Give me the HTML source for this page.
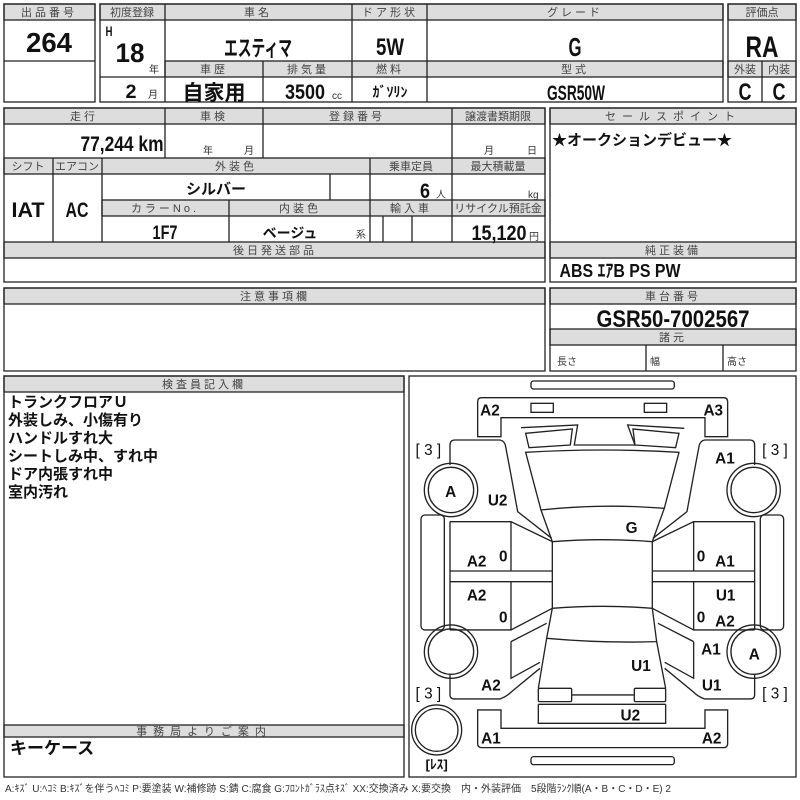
<!DOCTYPE html>
<html><head><meta charset="utf-8"><style>
html,body{margin:0;padding:0;background:#fff;}
svg{display:block;}
.h{fill:#ddd;stroke:#222;stroke-width:1.3;}
.b{fill:none;stroke:#222;stroke-width:1.3;}
.ht{font-family:"Liberation Sans","Noto Sans CJK JP",sans-serif;font-size:11px;fill:#444;text-anchor:middle;letter-spacing:3px;}
.n0{letter-spacing:0;}
.v{font-family:"Liberation Sans","Noto Sans CJK JP",sans-serif;font-weight:bold;fill:#111;text-anchor:middle;}
.j{font-family:"Liberation Sans","Noto Sans CJK JP",sans-serif;font-weight:bold;fill:#111;}
.s{font-family:"Liberation Sans","Noto Sans CJK JP",sans-serif;font-size:10px;fill:#333;}
.d{fill:none;stroke:#222;stroke-width:4;}
.dl{font-family:"Liberation Sans","Noto Sans CJK JP",sans-serif;font-weight:bold;font-size:46px;fill:#111;text-anchor:middle;}
</style></head><body>
<svg width="800" height="800" viewBox="0 0 800 800" xmlns="http://www.w3.org/2000/svg">
<rect width="800" height="800" fill="#fff"/>
<!-- block 1 -->
<rect class="h" x="4" y="4" width="91" height="16"/>
<rect class="b" x="4" y="4" width="91" height="98"/>
<line class="b" x1="4" y1="61" x2="95" y2="61"/>
<text class="ht" x="49" y="16">出品番号</text>
<text class="v" x="49" y="52" font-size="28" textLength="46" lengthAdjust="spacingAndGlyphs">264</text>
<!-- block 2 -->
<rect class="h" x="100" y="4" width="623" height="16"/>
<rect class="h" x="165" y="61" width="558" height="16"/>
<rect class="b" x="100" y="4" width="623" height="98"/>
<line class="b" x1="165" y1="4" x2="165" y2="102"/>
<line class="b" x1="352" y1="4" x2="352" y2="102"/>
<line class="b" x1="427" y1="4" x2="427" y2="102"/>
<line class="b" x1="263" y1="61" x2="263" y2="102"/>
<line class="b" x1="100" y1="77" x2="165" y2="77"/>
<text class="ht n0" x="132" y="16">初度登録</text>
<text class="ht" x="258" y="16">車名</text>
<text class="ht" x="390" y="16">ドア形状</text>
<text class="ht" x="575" y="16">グレード</text>
<text class="ht" x="214" y="73">車歴</text>
<text class="ht" x="308" y="73">排気量</text>
<text class="ht" x="390" y="73">燃料</text>
<text class="ht" x="575" y="73">型式</text>
<text class="v" x="109" y="36" font-size="14" textLength="7" lengthAdjust="spacingAndGlyphs">H</text>
<text class="v" x="130" y="62" font-size="27" textLength="29" lengthAdjust="spacingAndGlyphs">18</text>
<text class="s" x="149" y="73" font-size="11">年</text>
<text class="v" x="131" y="98" font-size="19" textLength="11" lengthAdjust="spacingAndGlyphs">2</text>
<text class="s" x="148" y="98" font-size="11">月</text>
<text class="j" x="258" y="56" font-size="22" text-anchor="middle" textLength="68" lengthAdjust="spacingAndGlyphs">エスティマ</text>
<text class="v" x="390" y="55" font-size="24" textLength="28" lengthAdjust="spacingAndGlyphs">5W</text>
<text class="v" x="575" y="56" font-size="26" textLength="13" lengthAdjust="spacingAndGlyphs">G</text>
<text class="j" x="214" y="100" font-size="21" text-anchor="middle">自家用</text>
<text class="v" x="305" y="99" font-size="21" textLength="40" lengthAdjust="spacingAndGlyphs">3500</text>
<text class="s" x="332" y="99" font-size="11">cc</text>
<text class="j" x="390" y="97" font-size="14" text-anchor="middle">ｶﾞｿﾘﾝ</text>
<text class="v" x="576" y="100" font-size="21" textLength="58" lengthAdjust="spacingAndGlyphs">GSR50W</text>
<!-- block 3 -->
<rect class="h" x="728" y="4" width="68" height="16"/>
<rect class="h" x="728" y="61" width="68" height="16"/>
<rect class="b" x="728" y="4" width="68" height="98"/>
<line class="b" x1="762" y1="61" x2="762" y2="102"/>
<text class="ht n0" x="762" y="16">評価点</text>
<text class="ht n0" x="745" y="73">外装</text>
<text class="ht n0" x="779" y="73">内装</text>
<text class="v" x="762" y="57" font-size="30" textLength="33" lengthAdjust="spacingAndGlyphs">RA</text>
<text class="v" x="745" y="100" font-size="24" textLength="13" lengthAdjust="spacingAndGlyphs">C</text>
<text class="v" x="779" y="100" font-size="24" textLength="13" lengthAdjust="spacingAndGlyphs">C</text>
<!-- block 4 -->
<rect class="h" x="4" y="108" width="541" height="16"/>
<rect class="h" x="4" y="158" width="541" height="16"/>
<rect class="h" x="102" y="200" width="443" height="16"/>
<rect class="h" x="4" y="242" width="541" height="16"/>
<rect class="b" x="4" y="108" width="541" height="174"/>
<line class="b" x1="165" y1="108" x2="165" y2="158"/>
<line class="b" x1="263" y1="108" x2="263" y2="158"/>
<line class="b" x1="452" y1="108" x2="452" y2="242"/>
<line class="b" x1="53" y1="158" x2="53" y2="242"/>
<line class="b" x1="102" y1="158" x2="102" y2="242"/>
<line class="b" x1="370" y1="158" x2="370" y2="242"/>
<line class="b" x1="330" y1="174" x2="330" y2="200"/>
<line class="b" x1="229" y1="200" x2="229" y2="242"/>
<line class="b" x1="383" y1="216" x2="383" y2="242"/>
<line class="b" x1="412" y1="216" x2="412" y2="242"/>
<text class="ht" x="84" y="120">走行</text>
<text class="ht" x="214" y="120">車検</text>
<text class="ht" x="357" y="120">登録番号</text>
<text class="ht n0" x="498" y="120">譲渡書類期限</text>
<text class="ht n0" x="28" y="170" font-size="10">シフト</text>
<text class="ht n0" x="77" y="170" font-size="10">エアコン</text>
<text class="ht" x="236" y="170">外装色</text>
<text class="ht n0" x="411" y="170">乗車定員</text>
<text class="ht n0" x="498" y="170">最大積載量</text>
<text class="ht" x="165" y="212">カラーNo.</text>
<text class="ht" x="300" y="212">内装色</text>
<text class="ht" x="411" y="212">輸入車</text>
<text class="ht n0" x="498" y="212" font-size="10">リサイクル預託金</text>
<text class="ht" x="275" y="254">後日発送部品</text>
<text class="v" x="122" y="151" font-size="21" textLength="83" lengthAdjust="spacingAndGlyphs">77,244 km</text>
<text class="s" x="203" y="154" font-size="11">年</text>
<text class="s" x="244" y="154" font-size="11">月</text>
<text class="s" x="484" y="154" font-size="11">月</text>
<text class="s" x="527" y="154" font-size="11">日</text>
<text class="v" x="28" y="217" font-size="21" textLength="33" lengthAdjust="spacingAndGlyphs">IAT</text>
<text class="v" x="77" y="217" font-size="21" textLength="23" lengthAdjust="spacingAndGlyphs">AC</text>
<text class="j" x="216" y="194" font-size="15" text-anchor="middle">シルバー</text>
<text class="v" x="425" y="198" font-size="21" textLength="10" lengthAdjust="spacingAndGlyphs">6</text>
<text class="s" x="436" y="198" font-size="9">人</text>
<text class="s" x="528" y="198" font-size="11">kg</text>
<text class="v" x="165" y="239" font-size="19" textLength="25" lengthAdjust="spacingAndGlyphs">1F7</text>
<text class="j" x="290" y="238" font-size="14" text-anchor="middle">ベージュ</text>
<text class="s" x="356" y="238" font-size="11">系</text>
<text class="v" x="499" y="240" font-size="21" textLength="55" lengthAdjust="spacingAndGlyphs">15,120</text>
<text class="s" x="529" y="240" font-size="11">円</text>
<!-- block 5 -->
<rect class="h" x="550" y="108" width="246" height="16"/>
<rect class="h" x="550" y="242" width="246" height="16"/>
<rect class="b" x="550" y="108" width="246" height="174"/>
<text class="ht" x="673" y="120" style="letter-spacing:6px">セールスポイント</text>
<text class="ht" x="673" y="254">純正装備</text>
<text class="j" x="552" y="145" font-size="15">★オークションデビュー★</text>
<text class="v" x="620" y="277" font-size="18" textLength="121" lengthAdjust="spacingAndGlyphs">ABS ｴｱB PS PW</text>
<!-- block 6 -->
<rect class="h" x="4" y="288" width="541" height="16"/>
<rect class="b" x="4" y="288" width="541" height="83"/>
<text class="ht" x="275" y="300">注意事項欄</text>
<!-- block 7 -->
<rect class="h" x="550" y="288" width="246" height="16"/>
<rect class="h" x="550" y="329" width="246" height="16"/>
<rect class="b" x="550" y="288" width="246" height="83"/>
<line class="b" x1="646" y1="345" x2="646" y2="371"/>
<line class="b" x1="723" y1="345" x2="723" y2="371"/>
<text class="ht" x="673" y="300">車台番号</text>
<text class="ht" x="673" y="341">諸元</text>
<text class="v" x="673" y="327" font-size="24" textLength="153" lengthAdjust="spacingAndGlyphs">GSR50-7002567</text>
<text class="s" x="557" y="365" font-size="11">長さ</text>
<text class="s" x="650" y="365" font-size="11">幅</text>
<text class="s" x="727" y="365" font-size="11">高さ</text>
<!-- block 8 -->
<rect class="h" x="4" y="376" width="400" height="16"/>
<rect class="h" x="4" y="725" width="400" height="12"/>
<rect class="b" x="4" y="376" width="400" height="401"/>
<text class="ht" x="204" y="388">検査員記入欄</text>
<text class="ht" x="204" y="735" font-size="10" style="letter-spacing:6px">事務局よりご案内</text>
<g class="j" font-size="15">
<text x="8" y="407">トランクフロアＵ</text>
<text x="8" y="425">外装しみ、小傷有り</text>
<text x="8" y="443">ハンドルすれ大</text>
<text x="8" y="461">シートしみ中、すれ中</text>
<text x="8" y="479">ドア内張すれ中</text>
<text x="8" y="497">室内汚れ</text>
</g>
<text class="j" x="10" y="754" font-size="17">キーケース</text>
<!-- diagram -->
<rect class="b" x="409" y="376" width="387" height="401"/>
<g transform="translate(405,375) scale(0.3333)">
<rect class="d" x="378" y="18" width="430" height="24" rx="8"/>
<rect class="d" x="378" y="1145" width="430" height="24" rx="8"/>
<path class="d" d="M218,185 L218,80 Q218,68 230,68 L956,68 Q968,68 968,80 L968,185 L900,185 L900,128 L288,128 L288,185 Z"/>
<path class="d" d="M218,1005 L288,1005 L288,1060 L900,1060 L900,1005 L968,1005 L968,1106 Q968,1118 956,1118 L230,1118 Q218,1118 218,1106 Z"/>
<rect class="d" x="378" y="85" width="67" height="27"/>
<rect class="d" x="718" y="85" width="67" height="27"/>
<path class="d" d="M348,158 L518,150 L508,210 L690,210 L668,150 L838,160"/>
<polygon class="d" points="362,175 502,162 496,210 372,218"/>
<polygon class="d" points="684,162 822,175 812,218 690,210"/>
<path class="d" d="M362,232 Q592,218 822,232 L778,400 Q592,385 408,405 Z"/>
<path class="d" d="M408,405 L442,500 Q592,488 742,500 L778,400"/>
<path class="d" d="M442,500 L442,700 Q592,688 742,700 L742,500"/>
<path class="d" d="M442,700 L425,790 Q592,805 755,800 L742,700"/>
<path class="d" d="M425,790 L400,940 M755,800 L782,940 M400,988 L400,1045 L782,1045 L782,988"/>
<rect class="d" x="400" y="940" width="100" height="40" rx="4"/>
<rect class="d" x="688" y="940" width="94" height="40" rx="4"/>
<line class="d" x1="500" y1="960" x2="688" y2="960"/>
<line class="d" x1="400" y1="988" x2="782" y2="988"/>
<g id="side">
<path class="d" d="M135,270 L135,210 Q135,195 150,195 L285,195 Q300,198 302,215 L318,300 L338,410 L440,490"/>
<circle class="d" cx="138" cy="345" r="80"/><circle class="d" cx="138" cy="345" r="68"/>
<circle class="d" cx="138" cy="830" r="80"/><circle class="d" cx="138" cy="830" r="68"/>
<rect class="d" x="48" y="420" width="70" height="345" rx="12"/>
<path class="d" d="M135,440 L318,440 L442,500 M135,588 L442,588 M135,620 L442,620 M135,765 L318,765 L442,700 M135,440 L135,765 M318,440 L318,588 M318,620 L318,765"/>
<path class="d" d="M318,800 L425,745 M318,800 L318,910 L405,862"/>
<path class="d" d="M135,900 L135,960 Q135,972 150,972 L285,972 Q305,965 320,950 L405,880"/>
</g>
<use href="#side" transform="translate(1184,0) scale(-1,1)"/>
<circle class="d" cx="95" cy="1065" r="75"/><circle class="d" cx="95" cy="1065" r="64"/>
<g class="dl">
<text x="255" y="122">A2</text><text x="925" y="122">A3</text>
<text x="70" y="240" font-weight="normal">[ 3 ]</text><text x="1110" y="240" font-weight="normal">[ 3 ]</text>
<text x="70" y="970" font-weight="normal">[ 3 ]</text><text x="1110" y="970" font-weight="normal">[ 3 ]</text>
<text x="960" y="265">A1</text><text x="137" y="366">A</text>
<text x="278" y="392">U2</text><text x="680" y="474">G</text>
<text x="215" y="575">A2</text><text x="215" y="676">A2</text>
<text x="960" y="575">A1</text><text x="962" y="676">U1</text><text x="960" y="755">A2</text>
<text x="918" y="838">A1</text><text x="1048" y="854">A</text><text x="708" y="888">U1</text>
<text x="258" y="946">A2</text><text x="920" y="946">U1</text><text x="676" y="1036">U2</text>
<text x="258" y="1106">A1</text><text x="920" y="1106">A2</text>
<text x="95" y="1182" font-size="40">[ﾚｽ]</text>
</g>
<g class="dl" font-size="30" font-weight="normal">
<text x="295" y="560">0</text><text x="295" y="742">0</text>
<text x="888" y="560">0</text><text x="888" y="742">0</text>
</g>
</g>
<text class="s" x="5" y="792" font-size="9">A:ｷｽﾞ U:ﾍｺﾐ B:ｷｽﾞを伴うﾍｺﾐ P:要塗装 W:補修跡 S:錆 C:腐食 G:ﾌﾛﾝﾄｶﾞﾗｽ点ｷｽﾞ XX:交換済み X:要交換　内・外装評価　5段階ﾗﾝｸ順(A・B・C・D・E) 2</text>
</svg>
</body></html>
